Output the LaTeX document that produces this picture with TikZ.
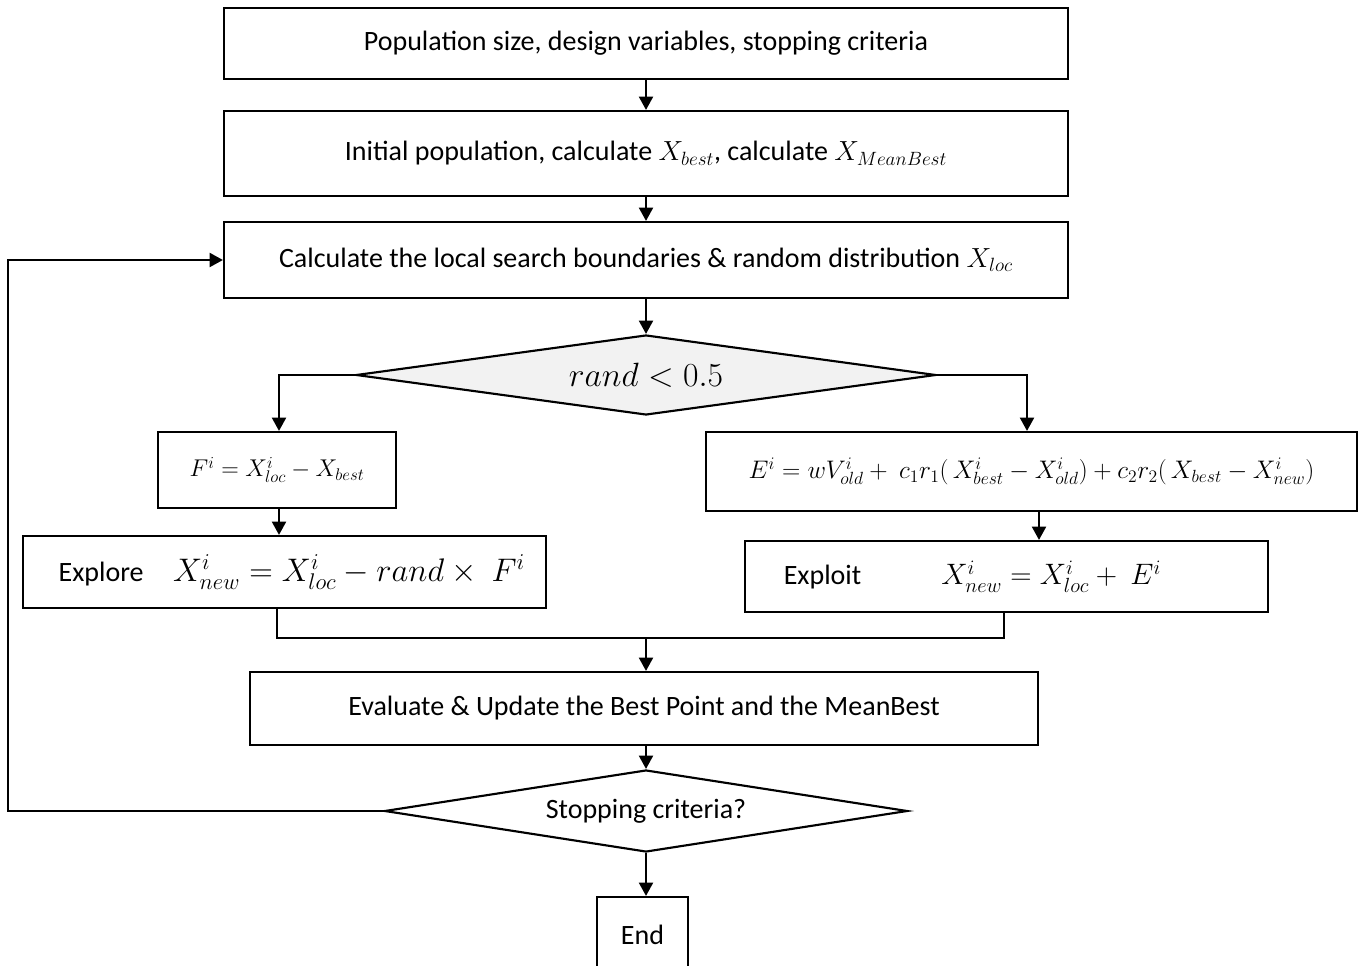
\documentclass[tikz,border=0pt]{standalone}
\usepackage{graphicx}
\usepackage{fontspec}
\setmainfont{Carlito}
\usetikzlibrary{arrows.meta,shapes.geometric}
\newcommand\mth[2]{\scalebox{#1}{$#2$}}
\begin{document}
\begin{tikzpicture}[x=0.75pt,y=-0.75pt,
  box/.style={draw,line width=1.6pt,rectangle,inner sep=0pt,font=\fontsize{21}{25}\selectfont},
  dec/.style={draw,line width=1.6pt,diamond,inner sep=0pt,font=\fontsize{21}{25}\selectfont},
  conn/.style={line width=1.6pt},
  arr/.style={line width=1.6pt,-{Triangle[length=10pt,width=10.5pt]}}]
\useasboundingbox (0,0) rectangle (1370,966);
\node[box,minimum width=633pt,minimum height=53.25pt] (b1) at (646,43.5) {Population size, design variables, stopping criteria};
\node[box,minimum width=633pt,minimum height=63.75pt] (b2) at (646,153.5) {Initial population, calculate $X_{best}$, calculate $X_{MeanBest}$};
\node[box,minimum width=633pt,minimum height=57pt] (b3) at (646,260) {Calculate the local search boundaries \& random distribution $X_{loc}$};
\node[dec,fill=black!5,shape aspect=7.25,minimum width=435pt,minimum height=60pt] (d1) at (646,375) {\mth{1.217}{rand < 0.5}};
\node[box,minimum width=178.5pt,minimum height=57pt] (bf) at (277,470) {\mth{0.877}{F^i = X^i_{loc} - X_{best}}};
\node[box,minimum width=392.25pt,minimum height=54pt] (bx) at (284.5,572) {\hspace*{11pt}Explore\hspace{22pt}\mth{1.18}{X^i_{new} = X^i_{loc} - rand \times\ F^i}};
\node[box,minimum width=488.25pt,minimum height=59.25pt] (be) at (1031.5,471.5) {\mth{0.918}{E^i = wV^i_{old} +\ c_1r_1\bigl(\,X^i_{best} - X^i_{old}\bigr) + c_2r_2\bigl(\,X_{best} - X^i_{new}\bigr)}};
\node[box,minimum width=392.25pt,minimum height=53.25pt] (bt) at (1006.5,576.5) {Exploit\hspace{60pt}\mth{1.068}{X^i_{new} = X^i_{loc} +\ E^i}\hspace*{51pt}};
\node[box,minimum width=591pt,minimum height=54.75pt] (bv) at (644,708.5) {Evaluate \& Update the Best Point and the MeanBest};
\node[dec,shape aspect=6.38,minimum width=392.25pt,minimum height=61.5pt] (d2) at (646,811) {Stopping criteria?};
\node[box,minimum width=68.25pt,minimum height=57pt] (bend) at (642.5,935) {End};
\coordinate (j) at (646,638);
\coordinate (lp) at (8,811);
\draw[arr] (b1.south -| 646,0) -- (b2.north -| 646,0);
\draw[arr] (b2.south -| 646,0) -- (b3.north -| 646,0);
\draw[arr] (b3.south -| 646,0) -- (d1.north);
\draw[arr] (d1.west) -| (279,0 |- bf.north);
\draw[arr] (bf.south -| 279,0) -- (bx.north -| 279,0);
\draw[arr] (d1.east) -| (1027,0 |- be.north);
\draw[arr] (be.south -| 1039,0) -- (bt.north -| 1039,0);
\draw[conn] (bx.south -| 277,0) |- (j) -| (bt.south -| 1004,0);
\draw[arr] (j) -- (j |- bv.north);
\draw[arr] (bv.south -| 646,0) -- (d2.north);
\draw[arr] (d2.south) -- (d2.south |- bend.north);
\draw[arr] (d2.west) -- (lp) |- (b3.west);
\end{tikzpicture}
\end{document}
